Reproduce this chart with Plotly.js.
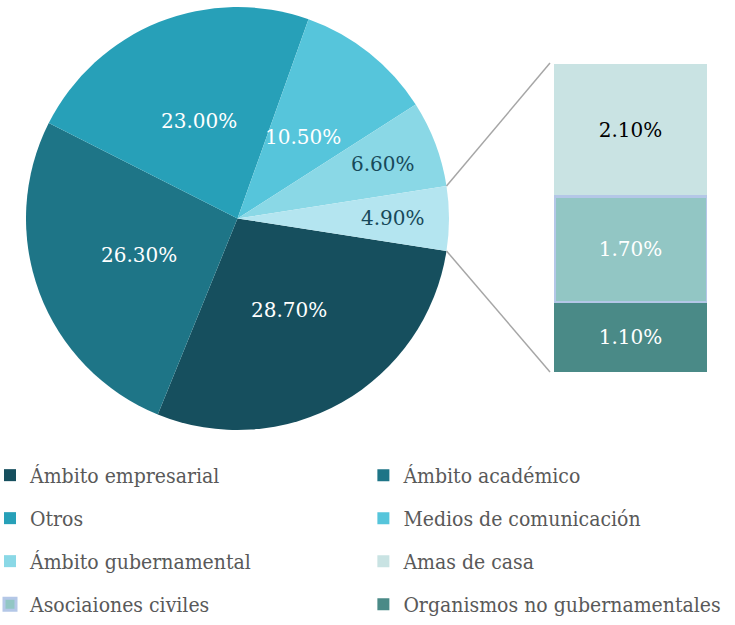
<!DOCTYPE html>
<html><head><meta charset="utf-8">
<script src="https://cdn.plot.ly/plotly-3.0.1.min.js"></script>
<style>html,body{margin:0;padding:0;background:#fff}#chart{width:735px;height:625px}</style>
</head><body><div id="chart"></div>
<script>
// ---- data ----
const pieLabels = ['Ámbito empresarial', 'Ámbito académico', 'Otros', 'Medios de comunicación', 'Ámbito gubernamental'];
const pieValues = [28.7, 26.3, 23.0, 10.5, 6.6];
const barLabels = ['Amas de casa', 'Asociaiones civiles', 'Organismos no gubernamentales'];
const barValues = [2.1, 1.7, 1.1];
// ---- styles ----
const pieColors = ['#164F5E', '#1E7587', '#27A0B8', '#56C5DB', '#8AD8E6'];
const aggColor = '#B4E5F0';
const barColors = ['#C9E3E3', '#92C6C4', '#4A8A87'];
const barLineColors = ['rgba(0,0,0,0)', '#B4C7E7', 'rgba(0,0,0,0)'];
const barLineWidths = [0, 3, 0];
const barTextColors = ['#000000', '#FFFFFF', '#FFFFFF'];
const labelFont = 'DejaVu Serif';
const legendFont = 'DejaVu Serif Condensed';

const W = 735, H = 625;
const cx = 237.5, cy = 218.5, R = 211.5;           // pie geometry (px)
const barX0 = 554, barX1 = 707, barY0 = 64, barY1 = 372; // bar box (px)

const aggValue = barValues.reduce((a, b) => a + b, 0);
const allPieValues = pieValues.concat([aggValue]);
const total = allPieValues.reduce((a, b) => a + b, 0);
const aggDeg = aggValue / total * 360;
const rotation = 90 + aggDeg / 2;

const fmt = v => v.toFixed(2) + '%';

const traces = [];
traces.push({
  type: 'pie',
  labels: pieLabels.concat(['Otros (agrupado)']),
  values: allPieValues,
  sort: false,
  direction: 'clockwise',
  rotation: rotation,
  marker: {colors: pieColors.concat([aggColor]), line: {width: 0}},
  textinfo: 'none',
  showlegend: false,
  hoverinfo: 'label+value',
  domain: {x: [(cx - R) / W, (cx + R) / W], y: [1 - (cy + R) / H, 1 - (cy - R) / H]}
});

// stacked bar (first trace on top with reversed axis)
barLabels.forEach((lab, i) => {
  traces.push({
    type: 'bar',
    x: [0],
    y: [barValues[i]],
    name: lab,
    text: [fmt(barValues[i])],
    textposition: 'inside',
    insidetextanchor: 'middle',
    textangle: 0,
    textfont: {family: labelFont, size: 20, color: barTextColors[i]},
    marker: {color: barColors[i], line: {color: barLineColors[i], width: barLineWidths[i]}},
    xaxis: 'x', yaxis: 'y',
    hoverinfo: 'name+y'
  });
});

// legend entries for pie categories
pieLabels.forEach((lab, i) => {
  traces.push({
    type: 'bar', x: [null], y: [null], name: lab,
    marker: {color: pieColors[i]},
    xaxis: 'x2', yaxis: 'y2'
  });
});

// legend assignment: two columns, row-major order
const legendOrder = [pieLabels[0], pieLabels[1], pieLabels[2], pieLabels[3], pieLabels[4], barLabels[0], barLabels[1], barLabels[2]];
traces.forEach(t => {
  if (t.type !== 'bar') return;
  const k = legendOrder.indexOf(t.name);
  t.legend = (k % 2 === 0) ? 'legend' : 'legend2';
  t.legendrank = k + 1;
  t.legendgroup = 'g' + k;
});

// pie labels as annotations at computed positions
const annotations = [];
let start = rotation;
allPieValues.forEach((v, i) => {
  const deg = v / total * 360;
  const mid = (start + deg / 2) * Math.PI / 180;
  start += deg;
  const frac = (v / total < 0.08) ? 0.735 : 0.495;
  const px = cx + Math.sin(mid) * R * frac;
  const py = cy - Math.cos(mid) * R * frac;
  annotations.push({
    x: px / W, y: 1 - py / H, xref: 'paper', yref: 'paper',
    text: fmt(v), showarrow: false, xanchor: 'center', yanchor: 'middle',
    font: {family: labelFont, size: 20, color: (v / total < 0.08) ? '#17495A' : '#FFFFFF'}
  });
});

// connector lines from aggregate slice edges to bar corners
const a0 = rotation * Math.PI / 180, a1 = (rotation - aggDeg) * Math.PI / 180;
const p0 = [cx + Math.sin(a1) * R, cy - Math.cos(a1) * R];
const p1 = [cx + Math.sin(a0) * R, cy - Math.cos(a0) * R];
const shapes = [
  {type: 'line', xref: 'paper', yref: 'paper', x0: p0[0] / W, y0: 1 - p0[1] / H, x1: (barX0 - 4) / W, y1: 1 - (barY0 - 1) / H, line: {color: '#A6A6A6', width: 1.5}},
  {type: 'line', xref: 'paper', yref: 'paper', x0: p1[0] / W, y0: 1 - p1[1] / H, x1: (barX0 - 4) / W, y1: 1 - barY1 / H, line: {color: '#A6A6A6', width: 1.5}}
];

const legendCommon = {
  orientation: 'v', xanchor: 'left', yanchor: 'bottom', y: 0, bgcolor: 'rgba(0,0,0,0)',
  font: {family: legendFont, size: 21, color: '#595959'}, indentation: -10,
  tracegroupgap: 12.7, traceorder: 'grouped', itemclick: false, itemdoubleclick: false
};

const layout = {
  width: W, height: H,
  margin: {l: 0, r: 0, t: 0, b: 0},
  paper_bgcolor: '#FFFFFF', plot_bgcolor: 'rgba(0,0,0,0)',
  barmode: 'stack', bargap: 0,
  showlegend: true,
  xaxis: {domain: [barX0 / W, barX1 / W], range: [-0.5, 0.5], visible: false, fixedrange: true},
  yaxis: {domain: [1 - barY1 / H, 1 - barY0 / H], range: [aggValue, 0], visible: false, fixedrange: true},
  xaxis2: {domain: [0, 0.01], visible: false, anchor: 'y2'},
  yaxis2: {domain: [0, 0.01], visible: false, anchor: 'x2'},
  legend: Object.assign({}, legendCommon, {x: 0}),
  legend2: Object.assign({}, legendCommon, {x: 0.508}),
  annotations: annotations,
  shapes: shapes
};

Plotly.newPlot('chart', traces, layout, {displayModeBar: false, staticPlot: true});
</script>
</body></html>
